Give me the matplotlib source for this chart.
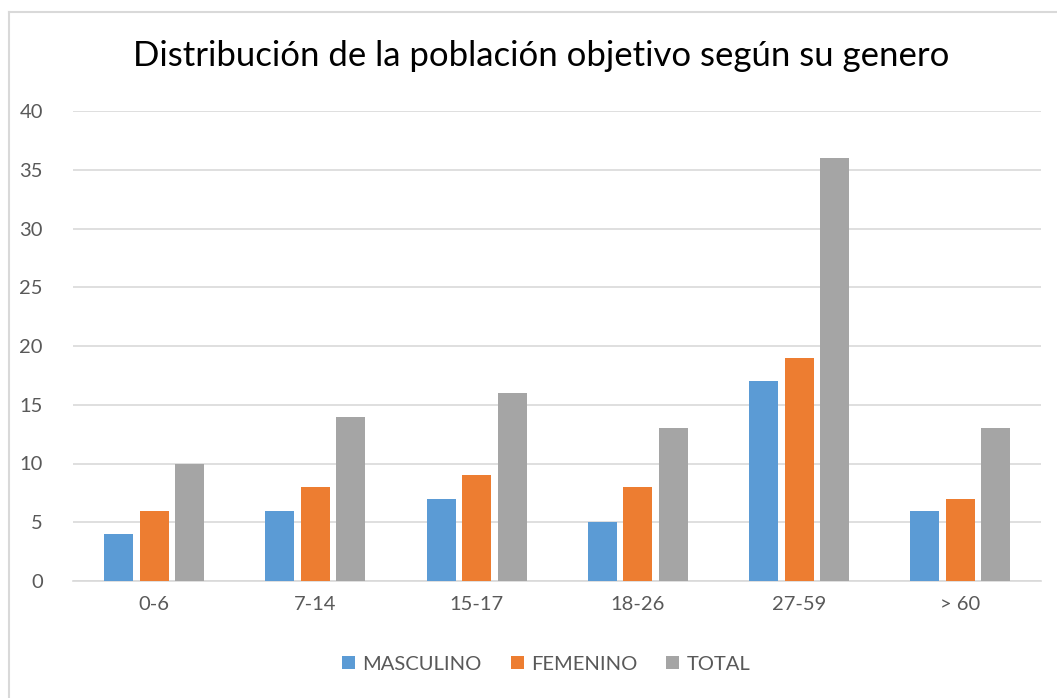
import numpy as np
import matplotlib.pyplot as plt
from matplotlib.lines import Line2D

categories = ['0-6', '7-14', '15-17', '18-26', '27-59', '> 60']
masculino = [4, 6, 7, 5, 17, 6]
femenino = [6, 8, 9, 8, 19, 7]
total = [10, 14, 16, 13, 36, 13]
series_names = ['MASCULINO', 'FEMENINO', 'TOTAL']
colors = ['#5B9BD5', '#ED7D31', '#A5A5A5']

plt.rcParams['font.family'] = ['Lato', 'DejaVu Sans']

W, H = 1057, 698
fig = plt.figure(figsize=(W / 100, H / 100), dpi=100)
ax = fig.add_axes([73.4 / W, 1 - 581 / H, (1041 - 73.4) / W, (581 - 111) / H])

x = np.arange(len(categories))
width = 0.18
step = 0.22
for i, (vals, name, c) in enumerate(zip([masculino, femenino, total], series_names, colors)):
    ax.bar(x + (i - 1) * step, vals, width, color=c, label=name, zorder=3)

ax.set_xlim(-0.5, len(categories) - 0.5)
ax.set_ylim(0, 40)
ax.set_yticks(range(0, 41, 5))
ax.set_xticks(x)
ax.set_xticklabels(categories)
ax.yaxis.grid(True, color='#D9D9D9', linewidth=1.2, zorder=0)
for s in ['top', 'right', 'left']:
    ax.spines[s].set_visible(False)
ax.spines['bottom'].set_color('#D9D9D9')
ax.spines['bottom'].set_linewidth(1.2)
ax.tick_params(axis='both', length=0, labelsize=14.5, labelcolor='#595959')
ax.tick_params(axis='y', pad=22)
ax.tick_params(axis='x', pad=11)

fig.text(541 / W, 1 - 56 / H, 'Distribución de la población objetivo según su genero',
         ha='center', va='center', fontsize=25, color='#000000')

leg = fig.legend(loc='center', bbox_to_anchor=(546 / W, 1 - 664 / H), ncol=3,
                 frameon=False, fontsize=14.5, handlelength=0.65, handleheight=0.65,
                 handletextpad=0.35, columnspacing=1.45)
for t in leg.get_texts():
    t.set_color('#595959')

# chart frame (only top and left edges visible in the crop)
fig.lines.append(Line2D([8.5 / W, 1], [1 - 11.5 / H, 1 - 11.5 / H], transform=fig.transFigure,
                        color='#D9D9D9', linewidth=1.5))
fig.lines.append(Line2D([8.5 / W, 8.5 / W], [1 - 11.5 / H, 0], transform=fig.transFigure,
                        color='#D9D9D9', linewidth=1.5))

fig.savefig('out.png', dpi=100)
